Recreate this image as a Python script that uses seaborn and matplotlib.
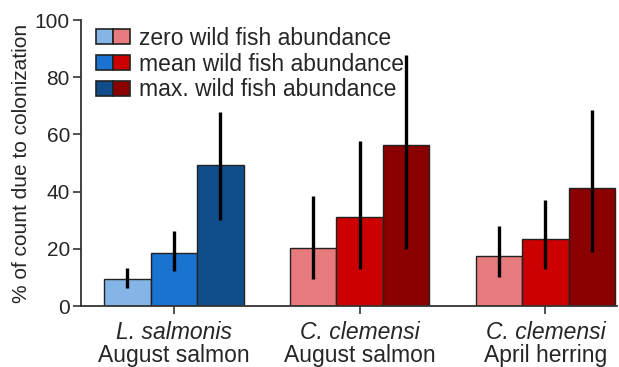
import numpy as np
import pandas as pd
import seaborn as sns
import matplotlib.pyplot as plt
from matplotlib.patches import Patch
from matplotlib.legend_handler import HandlerTuple

# Data
groups = ["L. salmonis\nAugust salmon", "C. clemensi\nAugust salmon", "C. clemensi\nApril herring"]
species = ["L. salmonis", "C. clemensi", "C. clemensi"]
hosts = ["August salmon", "August salmon", "April herring"]
levels = ["zero wild fish abundance", "mean wild fish abundance", "max. wild fish abundance"]

zero_vals = [9.5, 20.3, 17.6]
mean_vals = [18.6, 31.2, 23.4]
max_vals = [49.2, 56.2, 41.3]

zero_lo = [6.3, 9.4, 10.1]
zero_hi = [13.3, 38.5, 28.0]
mean_lo = [12.2, 12.9, 13.1]
mean_hi = [26.2, 57.7, 37.1]
max_lo = [30.0, 20.0, 18.9]
max_hi = [67.8, 87.8, 68.4]

blues = ["#84b5e6", "#1a73d1", "#104e8b"]
reds = ["#e67a7c", "#cc0000", "#8b0000"]
group_palettes = [blues, reds, reds]

values = [zero_vals, mean_vals, max_vals]
lows = [zero_lo, mean_lo, max_lo]
highs = [zero_hi, mean_hi, max_hi]

df = pd.DataFrame({
    "group": [g for lv in levels for g in groups],
    "level": [lv for lv in levels for g in groups],
    "value": [v for vals in values for v in vals],
})

sns.set_style("ticks")
plt.rcParams["font.family"] = ["Liberation Sans", "DejaVu Sans"]

fig = plt.figure(figsize=(6.19, 3.67), dpi=100)
ax = fig.add_axes([81 / 619, 61 / 367, 536 / 619, 286 / 367])

sns.barplot(data=df, x="group", y="value", hue="level", order=groups,
            hue_order=levels, width=0.75, gap=0, errorbar=None,
            edgecolor="#222222", linewidth=1.0, ax=ax, legend=False)

# recolour bars per group and add asymmetric interval lines
bars = [p for p in ax.patches if p.get_height() > 0]
for li in range(3):
    for gi in range(3):
        bar = bars[li * 3 + gi]
        bar.set_facecolor(group_palettes[gi][li])
        xc = bar.get_x() + bar.get_width() / 2
        ax.vlines(xc, lows[li][gi], highs[li][gi], color="black", lw=2.4, zorder=5)

ax.set_ylim(0, 100)
ax.set_xlim(-0.5, 2.385)
ax.set_yticks([0, 20, 40, 60, 80, 100])
ax.tick_params(axis="y", labelsize=15, length=6, width=1.2, color="#333333", pad=2)
ax.tick_params(axis="x", length=6, width=1.2, color="#333333")
ax.set_xticks([0, 1, 2])
ax.set_xticklabels(["", "", ""])
ax.set_xlabel("")
ax.set_ylabel("% of count due to colonization", fontsize=15, labelpad=3)
for gi in range(3):
    ax.text(gi, -0.092, species[gi], style="italic", fontsize=16.5, ha="center", va="center",
            transform=ax.get_xaxis_transform())
    ax.text(gi, -0.172, hosts[gi], fontsize=16.5, ha="center", va="center",
            transform=ax.get_xaxis_transform())

sns.despine(ax=ax)
for s in ["left", "bottom"]:
    ax.spines[s].set_color("#333333")
    ax.spines[s].set_linewidth(1.3)

handles = [(Patch(facecolor=blues[i], edgecolor="#222222", lw=1.2),
            Patch(facecolor=reds[i], edgecolor="#222222", lw=1.2)) for i in range(3)]
ax.legend(handles, levels, handler_map={tuple: HandlerTuple(ndivide=None, pad=0)},
          loc="upper left", bbox_to_anchor=(0.016, 1.0), frameon=False, fontsize=16.5,
          handlelength=1.45, handleheight=0.62, labelspacing=0.12, handletextpad=0.42,
          borderaxespad=0, borderpad=0.3)

fig.savefig("out.png", dpi=100)
